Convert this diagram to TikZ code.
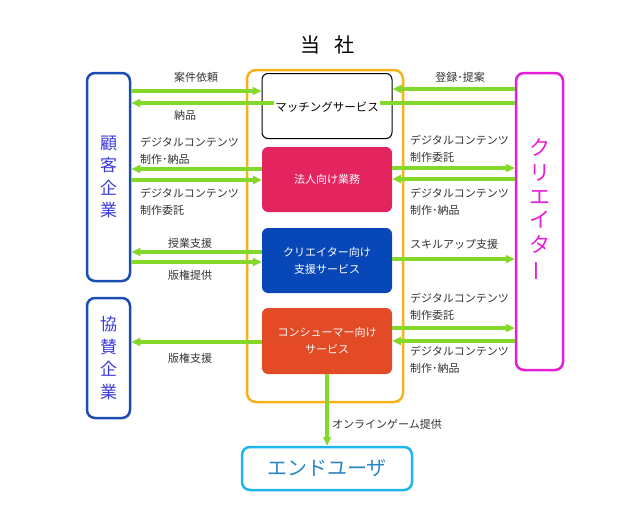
\documentclass[tikz,border=0pt]{standalone}
\usepackage{fontspec}
\newfontfamily\jp{Noto Sans CJK JP}
\usetikzlibrary{arrows.meta, positioning}

\definecolor{flowgreen}{HTML}{84D82A}
\definecolor{companyorange}{HTML}{F7B21B}
\definecolor{clientblue}{HTML}{1A4DB3}
\definecolor{clienttext}{HTML}{3A3AE0}
\definecolor{creatormagenta}{HTML}{E61CD6}
\definecolor{corpred}{HTML}{E3245E}
\definecolor{supportblue}{HTML}{0847B8}
\definecolor{consumerorange}{HTML}{E24B26}
\definecolor{usercyan}{HTML}{1DB5EC}
\definecolor{usertext}{HTML}{2A86C4}

\begin{document}
\begin{tikzpicture}[x=1pt, y=-1pt,
    every node/.style={font=\jp\fontsize{11}{17}\selectfont},
    flow/.style={line width=3.3pt, flowgreen, -{Triangle[length=9pt, width=8pt]}},
    unit/.style={rounded corners=6pt, minimum width=130pt, minimum height=65pt,
                 text=white, align=center, inner sep=0pt},
    side/.style={draw, line width=2.5pt, rounded corners=8pt, minimum width=43pt,
                 align=center, inner sep=0pt},
    lbl/.style={text=black!80, align=left, inner sep=0pt}]
    \useasboundingbox (0,0) rectangle (639,511);

    % Company
    \node[font=\jp\fontsize{20}{24}\selectfont] (title) at (327,45) {当\hspace{14pt}社};
    \node[draw=companyorange, line width=2.5pt, rounded corners=9pt,
          minimum width=156pt, minimum height=332pt] (company) at (325,236) {};

    % Business units
    \node[draw=black, line width=1pt, minimum height=54pt, unit] (match) at (327,106) {};
    \node[fill=corpred, unit] (corp) at (327,179.5) {法人向け業務};
    \node[fill=supportblue, unit] (csup) at (327,260.5) {クリエイター向け\\支援サービス};
    \node[fill=consumerorange, unit, minimum height=66pt] (cons) at (327,341) {コンシューマー向け\\サービス};

    % Partners
    \node[side, draw=clientblue, minimum height=208pt, text=clienttext,
          font=\jp\fontsize{17}{22.5}\selectfont] (client) at (108.5,177) {顧\\客\\企\\業};
    \node[side, draw=clientblue, minimum height=120pt, text=clienttext,
          font=\jp\fontsize{17}{22.5}\selectfont] (sponsor) at (108.5,358) {協\\賛\\企\\業};
    \node[side, draw=creatormagenta, minimum width=47pt, minimum height=297pt] (creator) at (539.5,221.5) {};
    \node[text=creatormagenta, align=center, inner sep=0pt,
          font=\jp\fontsize{21}{24}\selectfont] (creatorname) at ([yshift=11pt]creator.center)
          {ク\\リ\\エ\\イ\\タ\\\rotatebox[origin=c]{90}{ー}};
    \node[draw=usercyan, line width=2.5pt, rounded corners=8pt, minimum width=170pt, minimum height=43pt,
          text=usertext, font=\jp\fontsize{20}{24}\selectfont] (user) at (327,468.5) {エンドユーザ};

    % Matching
    \draw[flow] (client.east |- 0,91) -- (match.west |- 0,91);
    \draw[flow] (creator.west |- 0,103) -- (client.east |- 0,103);
    \draw[flow] (creator.west |- 0,89) -- (match.east |- 0,89);
    \node[fill=white, inner sep=1.5pt, font=\jp\fontsize{11.5}{17}\selectfont]
          (matchname) at ([yshift=-1pt]match.center) {マッチングサービス};
    \node[lbl] at (196,77) {案件依頼};
    \node[lbl] at (185,115) {納品};
    \node[lbl] at (460,77) {登録･提案};

    % Corporate work
    \draw[flow] (corp.west |- 0,169) -- (client.east |- 0,169);
    \draw[flow] (client.east |- 0,180) -- (corp.west |- 0,180);
    \draw[flow] (corp.east |- 0,168) -- (creator.west |- 0,168);
    \draw[flow] (creator.west |- 0,179) -- (corp.east |- 0,179);
    \node[lbl, anchor=west] at (140,151) {デジタルコンテンツ\\制作･納品};
    \node[lbl, anchor=west] at (140,202) {デジタルコンテンツ\\制作委託};
    \node[lbl, anchor=west] at (410,149) {デジタルコンテンツ\\制作委託};
    \node[lbl, anchor=west] at (410,202) {デジタルコンテンツ\\制作･納品};

    % Creator support
    \draw[flow] (csup.west |- 0,252) -- (client.east |- 0,252);
    \draw[flow] (client.east |- 0,262) -- (csup.west |- 0,262);
    \draw[flow] (csup.east |- 0,259) -- (creator.west |- 0,259);
    \node[lbl] at (190,243) {授業支援};
    \node[lbl] at (190,275) {版権提供};
    \node[lbl, anchor=west] at (410,244) {スキルアップ支援};

    % Consumer services
    \draw[flow] (cons.west |- 0,342) -- (sponsor.east |- 0,342);
    \draw[flow] (cons.east |- 0,328) -- (creator.west |- 0,328);
    \draw[flow] (creator.west |- 0,341) -- (cons.east |- 0,341);
    \node[lbl] at (190,358) {版権支援};
    \node[lbl, anchor=west] at (410,307) {デジタルコンテンツ\\制作委託};
    \node[lbl, anchor=west] at (410,360) {デジタルコンテンツ\\制作･納品};

    % End user
    \draw[flow] (cons.south) -- (user.north);
    \node[lbl, anchor=west] at (332,424) {オンラインゲーム提供};
\end{tikzpicture}
\end{document}
